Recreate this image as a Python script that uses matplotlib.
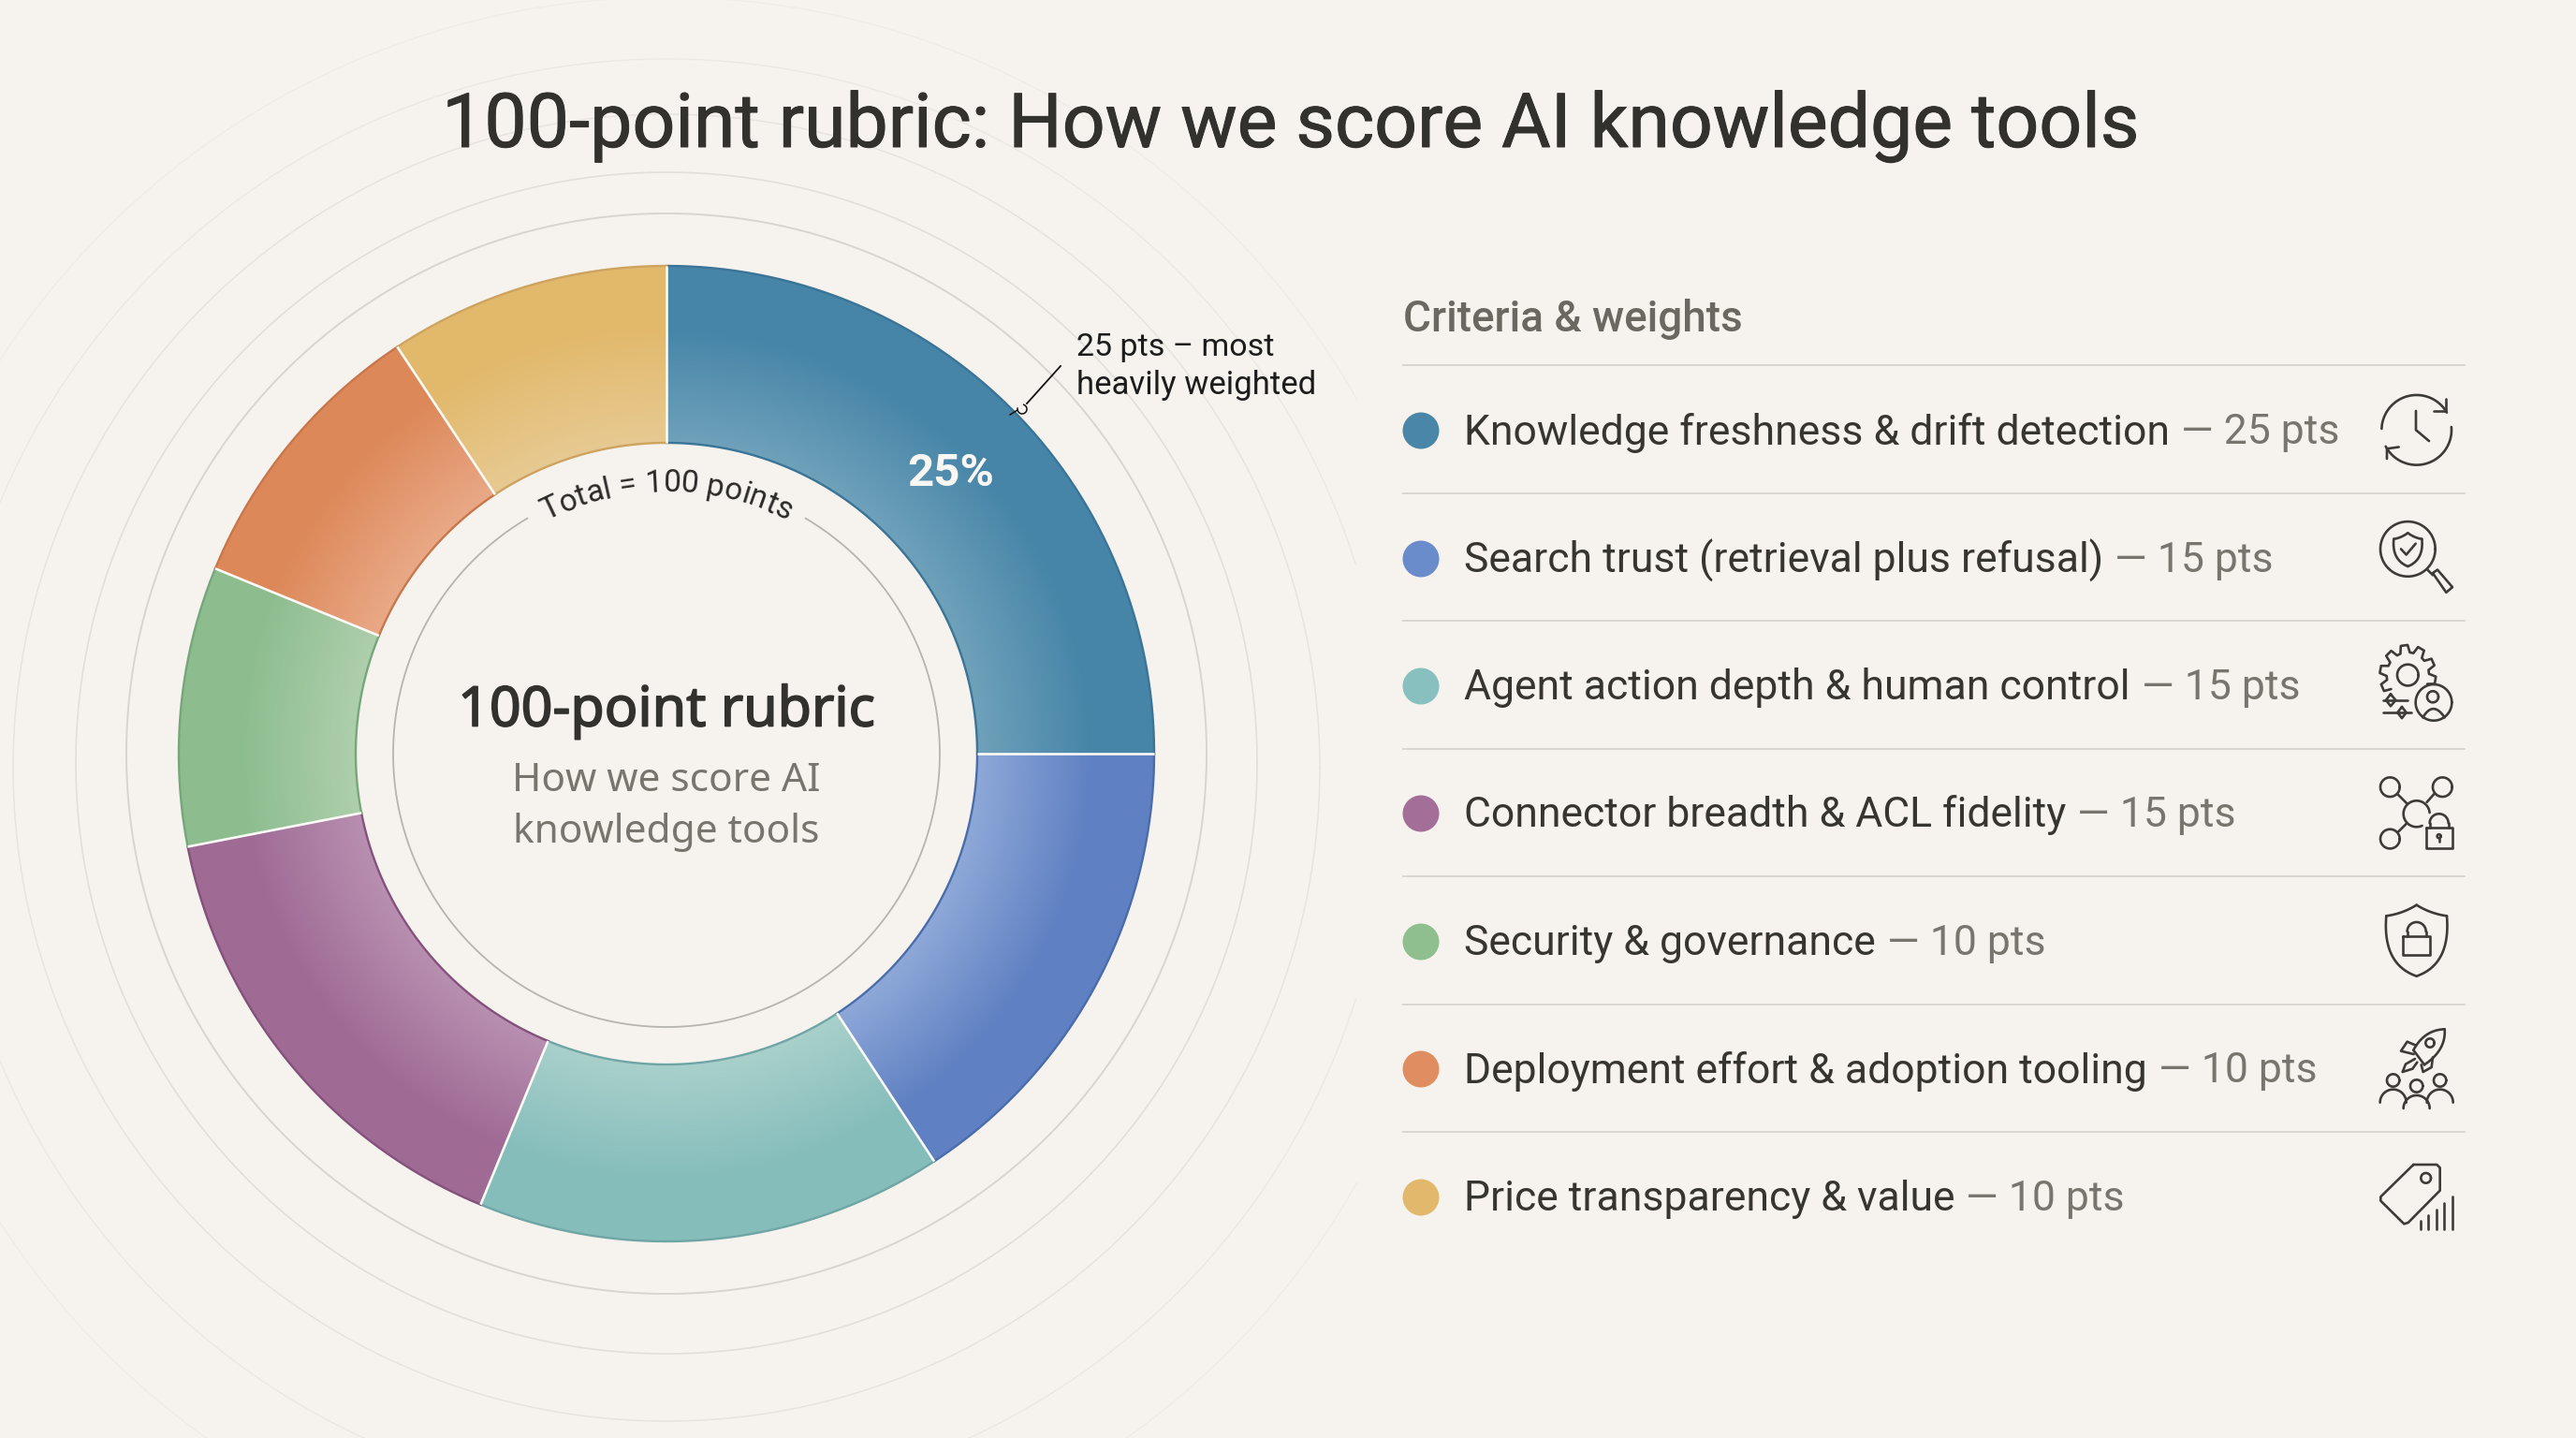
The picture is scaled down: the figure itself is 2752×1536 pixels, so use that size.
"""
plot.py
100-point rubric donut with criteria list and line icons.
"""

import numpy as np
import matplotlib
matplotlib.use("Agg")
import matplotlib.pyplot as plt
import matplotlib.patheffects as pe
from matplotlib.colors import to_rgb

W, H = 2752, 1536
BG = "#f6f3ee"
INK = "#3d3b38"
GREY = "#78746e"

CRITERIA = [
    "Knowledge freshness & drift detection",
    "Search trust (retrieval plus refusal)",
    "Agent action depth & human control",
    "Connector breadth & ACL fidelity",
    "Security & governance",
    "Deployment effort & adoption tooling",
    "Price transparency & value",
]
POINTS = [25, 15, 15, 15, 10, 10, 10]
# slice sizes as drawn in the picture (degrees of arc), slightly off the nominal weights
SLICE_DEG = [90.0, 56.7, 55.7, 56.6, 33.3, 34.2, 33.5]
DOT_COLORS = ["#4a86a8", "#6a8ccb", "#87c0bf", "#a36f99", "#8fbf8f", "#e08d61", "#e2b96c"]
OUTER_COLORS = ["#4685a8", "#5f80c2", "#85bdbb", "#9f6b95", "#8dbd8f", "#dd8859", "#e2b96c"]
INNER_COLORS = ["#6fa1ba", "#8ea8d8", "#a9d0cb", "#b88fb0", "#aecfac", "#e9a987", "#e7ca92"]
EDGE_COLORS = ["#3a7497", "#4a6cab", "#6fa5a5", "#84517c", "#76a67a", "#c8764b", "#cda35f"]

CX, CY = 712, 805
R_OUT, R_IN = 521, 332

plt.rcParams["font.family"] = ["Roboto", "DejaVu Sans"]

fig = plt.figure(figsize=(W / 100, H / 100), dpi=100, facecolor=BG)
ax = fig.add_axes([0, 0, 1, 1])
ax.set_facecolor(BG)

# ── background rings ──────────────────────────────────────────────────────────
theta = np.linspace(0, 2 * np.pi, 720)
for ring_cy, ring_r, col, lw in [
    (805, 577, "#d8d5d0", 1.4),
    (815, 631, "#e2dfda", 1.2),
    (820, 698, "#e7e4df", 1.1),
    (835, 772, "#ebe8e3", 1.0),
    (845, 848, "#efece7", 1.0),
]:
    x = CX + ring_r * np.cos(theta)
    y = ring_cy + ring_r * np.sin(theta)
    y = np.where(x > 1450, np.nan, y)
    ax.plot(x, y, color=col, lw=lw, zorder=0.5)

# ── donut ─────────────────────────────────────────────────────────────────────
wedges, _ = ax.pie(
    SLICE_DEG, colors=OUTER_COLORS, startangle=-90, counterclock=True,
    center=(CX, CY), radius=R_OUT,
    wedgeprops={"width": R_OUT - R_IN, "linewidth": 0},
)
ax.set_xlim(0, W)
ax.set_ylim(H, 0)
ax.set_aspect("auto")
ax.axis("off")

gx, gy = np.meshgrid(np.arange(0, W, 4) + 2, np.arange(0, H, 4) + 2)
gr = np.hypot(gx - CX, gy - CY)
gt = np.clip((gr - R_IN) / (R_OUT - R_IN) / 0.65, 0, 1)[..., None]
for w, c_in, c_out, c_edge in zip(wedges, INNER_COLORS, OUTER_COLORS, EDGE_COLORS):
    img = np.array(to_rgb(c_in)) * (1 - gt) + np.array(to_rgb(c_out)) * gt
    im = ax.imshow(img, extent=(0, W, H, 0), origin="upper", aspect="auto",
                   interpolation="bilinear", zorder=1.5)
    im.set_clip_path(w)
    arc = np.radians(np.linspace(w.theta1, w.theta2, 200))
    for r in (R_OUT, R_IN):
        ax.plot(CX + r * np.cos(arc), CY + r * np.sin(arc), color=c_edge, lw=1.7, zorder=2)
for w in wedges:
    a = np.radians(w.theta1)
    ax.plot([CX + R_IN * np.cos(a), CX + R_OUT * np.cos(a)],
            [CY + R_IN * np.sin(a), CY + R_OUT * np.sin(a)],
            color="#fbfaf6", lw=1.9, zorder=3, solid_capstyle="butt")
ax.set_xlim(0, W)
ax.set_ylim(H, 0)

# inner thin ring with a gap for the arc label
arc = np.radians(np.linspace(-90 + 30.6, 270 - 30.6, 400))
ax.plot(CX + 292 * np.cos(arc), CY + 292 * np.sin(arc), color="#b6b4af", lw=1.3, zorder=2)

# ── text ──────────────────────────────────────────────────────────────────────
ax.text(1378, 135, "100-point rubric: How we score AI knowledge tools",
        fontsize=58, color="#33312e", ha="center", va="center",
        path_effects=[pe.withStroke(linewidth=0.7, foreground="#33312e")])
heavy = [pe.withStroke(linewidth=1.2, foreground="#33312e")]
ax.text(712, 760, "100-point rubric", fontsize=42.5, color="#33312e", ha="center",
        va="center", family=["Noto Sans"], path_effects=heavy)
ax.text(712, 834, "How we score AI", fontsize=30.5, color=GREY, ha="center", va="center",
        family=["Noto Sans"])
ax.text(712, 889, "knowledge tools", fontsize=30.5, color=GREY, ha="center", va="center",
        family=["Noto Sans"])
ax.text(1016, 506, "25%", fontsize=35.5, color="#f8f7f4", ha="center", va="center", weight="bold")

ax.text(1150, 371, "25 pts – most", fontsize=24.5, color="#1c1c1c", ha="left", va="center")
ax.text(1150, 411, "heavily weighted", fontsize=25, color="#1c1c1c", ha="left", va="center")
ax.plot([1133, 1097], [391, 431], color="#111111", lw=1.3, zorder=4)
a = np.radians(np.linspace(-70, 190, 30))
ax.plot(1092 + 5 * np.cos(a), 437 + 5 * np.sin(a), color="#111111", lw=1.1, zorder=4)
ax.plot([1087, 1079], [438, 443], color="#111111", lw=1.1, zorder=4)

# arc label, one glyph at a time
renderer = fig.canvas.get_renderer()
label = "Total = 100 points"
probe = ax.text(0, 0, label, fontsize=24)
prop = probe.get_fontproperties()
probe.remove()
def adv(s):
    return renderer.get_text_width_height_descent(s, prop, False)[0]
total = adv(label)
ARC_R = 280
for i, ch in enumerate(label):
    mid = adv(label[:i]) + adv(ch) / 2 - total / 2
    ang = mid / ARC_R
    ax.text(CX + ARC_R * np.sin(ang), CY - ARC_R * np.cos(ang), ch, fontsize=24,
            color="#2b2a28", ha="center", va="baseline",
            rotation=-np.degrees(ang), rotation_mode="anchor")

# ── criteria list ─────────────────────────────────────────────────────────────
ax.text(1499, 341, "Criteria & weights", fontsize=33, color="#6b6761", ha="left",
        va="center", weight="medium")
rule_y = [390, 527, 663, 800, 936, 1073, 1209]
row_y = [460, 597, 733, 869, 1006, 1142, 1279]
for y in rule_y:
    ax.plot([1499, 2633], [y, y], color="#d6d3ce", lw=1.3, zorder=1)
ax.scatter([1518] * len(row_y), row_y, s=(19.5 * 2 * 0.72) ** 2, c=DOT_COLORS,
           linewidths=0, zorder=3)
for name, pts, y in zip(CRITERIA, POINTS, row_y):
    t = ax.text(1564, y + 2, name, fontsize=32, color="#37352f", ha="left", va="center")
    right = t.get_window_extent(renderer).x1
    ax.text(right + 12, y + 2, f"— {pts} pts", fontsize=32, color=GREY, ha="left", va="center")


# ── icons, traced in crop coordinates ─────────────────────────────────────────
class Icon:
    def __init__(self, ox, oy, sy):
        self.ox, self.oy, self.sy = ox, oy, sy

    def line(self, *pts):
        p = np.array(pts, dtype=float)
        ax.plot(self.ox + p[:, 0] / 3, self.oy + p[:, 1] / self.sy, color=INK, lw=1.9,
                solid_capstyle="round", solid_joinstyle="round", zorder=4)

    def arc(self, cx, cy, r, a1=0, a2=360):
        a = np.radians(np.linspace(a1, a2, 80))
        ax.plot(self.ox + (cx + r * np.cos(a)) / 3, self.oy + cy / self.sy - r / 3 * np.sin(a),
                color=INK, lw=1.9, solid_capstyle="round", zorder=4)

    def curve(self, p0, p1, p2):
        t = np.linspace(0, 1, 30)[:, None]
        a, b, c = np.array(p0, float), np.array(p1, float), np.array(p2, float)
        self.line(*((1 - t) ** 2 * a + 2 * t * (1 - t) * b + t ** 2 * c))


# clock with refresh arrows
ic = Icon(2450, 380, 2.8)
ic.arc(395, 222, 112, 178, 30)
ic.arc(395, 222, 112, 5, -152)
ic.line((490, 130), (490, 165), (450, 165))
ic.line((300, 308), (300, 278), (338, 273))
ic.line((393, 165), (393, 222), (435, 255))

# magnifier with shield
ic.arc(367, 578, 88)
ic.curve((367, 530), (345, 545), (322, 548))
ic.curve((367, 530), (389, 545), (412, 548))
ic.curve((322, 548), (315, 610), (367, 630))
ic.curve((412, 548), (419, 610), (367, 630))
ic.line((345, 578), (362, 595), (392, 562))
ic.line((430, 640), (447, 656))
ic.line((447, 650), (490, 708), (510, 692), (462, 640), (447, 650))

# gear with person and sliders
gear = []
for k in np.linspace(-10, 205, 7):
    for da, rr in [(-13, 68), (-7, 90), (7, 90), (13, 68)]:
        b = np.radians(k + da)
        gear.append((367 + rr * np.cos(b), 955 - rr * np.sin(b)))
ic.line(*gear)
ic.arc(367, 955, 34)
ic.arc(450, 1037, 58)
ic.arc(447, 1020, 18)
ic.curve((415, 1082), (448, 1030), (485, 1082))
ic.line((288, 1030), (365, 1030))
ic.line((312, 1012), (328, 1030), (312, 1048), (297, 1030), (312, 1012))
ic.line((288, 1067), (378, 1067))
ic.line((348, 1050), (362, 1067), (348, 1084), (334, 1067), (348, 1050))

# network with padlock
ic.arc(310, 1290, 31)
ic.arc(478, 1290, 31)
ic.arc(310, 1445, 31)
ic.arc(395, 1370, 42, 5, 295)
ic.line((335, 1312), (365, 1340))
ic.line((452, 1310), (428, 1335))
ic.line((335, 1425), (362, 1400))
ic.line((425, 1410), (510, 1410), (510, 1472), (425, 1472), (425, 1410))
ic.arc(467, 1398, 30, 0, 180)
ic.line((437, 1398), (437, 1410))
ic.line((497, 1398), (497, 1410))
ic.arc(467, 1437, 6)
ic.line((467, 1443), (467, 1452))

# shield with padlock
ic = Icon(2450, 930, 3)
ic.curve((395, 110), (350, 138), (298, 145))
ic.curve((395, 110), (440, 138), (492, 145))
ic.curve((298, 145), (285, 300), (395, 338))
ic.curve((492, 145), (505, 300), (395, 338))
ic.line((352, 210), (438, 210), (438, 270), (352, 270), (352, 210))
ic.arc(395, 195, 30, 0, 180)
ic.line((365, 195), (365, 210))
ic.line((425, 195), (425, 210))

# rocket over three people
ic.curve((485, 508), (420, 510), (385, 575))
ic.curve((485, 508), (490, 575), (420, 622))
ic.line((385, 575), (420, 622))
ic.arc(438, 552, 14)
ic.line((393, 560), (365, 548), (345, 578), (386, 588))
ic.line((447, 598), (443, 630), (416, 645), (410, 622))
ic.line((390, 603), (360, 620), (350, 645), (382, 635), (397, 614))
for px_, py_, base in [(320, 672, 743), (470, 672, 743), (395, 690, 762)]:
    ic.arc(px_, py_, 20)
    ic.arc(px_, base, 42, 0, 180)

# price tag with bars
ic.line((385, 942), (460, 942), (470, 952), (470, 1025), (368, 1128), (355, 1132),
        (280, 1058), (280, 1045), (385, 942))
ic.arc(425, 985, 16)
for bx, top in zip([408, 433, 458, 483, 510], [1122, 1105, 1085, 1065, 1045]):
    ic.line((bx, top), (bx, 1150))

ax.set_xlim(0, W)
ax.set_ylim(H, 0)
fig.savefig("out.png", dpi=100, facecolor=BG)
